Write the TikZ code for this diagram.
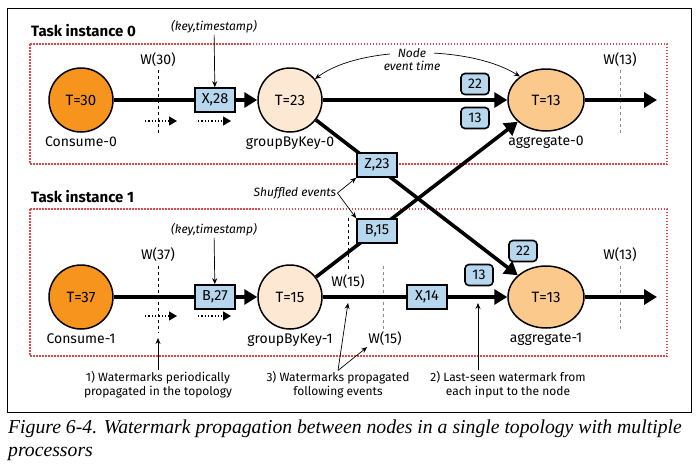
\documentclass[tikz,border=0pt]{standalone}
\usepackage{fontspec}
\setmainfont{Fira Sans}
\newfontfamily\capfont{Liberation Serif}
\usetikzlibrary{arrows.meta,shapes.geometric,positioning}
\definecolor{srcorange}{HTML}{F7941E}
\definecolor{grppeach}{HTML}{FDE8D3}
\definecolor{aggpeach}{HTML}{FBC98B}
\definecolor{evblue}{HTML}{B7D7EE}
\definecolor{taskred}{HTML}{E0474C}
\definecolor{wmgray}{HTML}{8C8C8C}

\begin{document}
\begin{tikzpicture}[x=1pt,y=-1pt,
  opnode/.style={draw,line width=1.5pt,inner sep=0pt,font=\fontsize{15}{17}\selectfont},
  srcnode/.style={opnode,circle,fill=srcorange,minimum size=64pt},
  grpnode/.style={opnode,circle,fill=grppeach,minimum size=64pt},
  aggnode/.style={opnode,ellipse,fill=aggpeach,minimum width=76pt,minimum height=62pt},
  oplbl/.style={font=\fontsize{14}{16}\selectfont,inner sep=1pt},
  evbox/.style={draw,line width=1.6pt,fill=evblue,minimum width=40pt,minimum height=24pt,inner sep=0pt,font=\fontsize{14.5}{16}\selectfont},
  wmbadge/.style={draw,line width=1.6pt,fill=evblue,rounded corners=4pt,minimum width=28pt,minimum height=21pt,inner sep=0pt,font=\fontsize{14}{16}\selectfont},
  wmlbl/.style={font=\fontsize{14}{16}\selectfont,inner sep=1pt},
  wmline/.style={dashed,line width=0.9pt,dash pattern=on 3pt off 3pt},
  flow/.style={line width=3.6pt,-{Triangle[length=13pt,width=15pt]}},
  tick/.style={dotted,line width=1.3pt,-{Triangle[length=8pt,width=9pt]}},
  note/.style={line width=0.7pt,-{Stealth[length=6pt,width=5pt]}},
  ital/.style={font=\itshape\fontsize{12}{14}\selectfont,inner sep=1pt},
  annot/.style={font=\fontsize{12}{14}\selectfont,align=center,inner sep=1pt},
  taskbox/.style={draw=taskred,line width=1.2pt,dash pattern=on 1.5pt off 1.5pt},
  tasktitle/.style={font=\bfseries\fontsize{15}{17}\selectfont,anchor=west,inner sep=0pt}]
\useasboundingbox (0,0) rectangle (698,472);
\draw[line width=1pt] (7,8) rectangle (691,412);

\draw[taskbox] (30,44) rectangle (667,164);
\draw[taskbox] (30,209) rectangle (667,356);
\node[tasktitle] (title0) at (31,31) {Task instance 0};
\node[tasktitle] (title1) at (31,197) {Task instance 1};

\node[srcnode] (con0) at (81,100) {T=30};
\node[grpnode] (gbk0) at (290,100) {T=23};
\node[aggnode] (agg0) at (546,100) {T=13};
\node[srcnode] (con1) at (81,297) {T=37};
\node[grpnode] (gbk1) at (290,297) {T=15};
\node[aggnode] (agg1) at (546,297) {T=13};
\node[oplbl,below=3pt of con0] {Consume-0};
\node[oplbl,below=3pt of gbk0] {groupByKey-0};
\node[oplbl,below=3pt of agg0] {aggregate-0};
\node[oplbl,below=3pt of con1] {Consume-1};
\node[oplbl,below=3pt of gbk1] {groupByKey-1};
\node[oplbl,below=3pt of agg1] {aggregate-1};
\coordinate (out0) at (657,100);
\coordinate (out1) at (657,297);

\node[wmlbl] (w30) at (158,60) {W(30)};
\node[wmlbl] (w37) at (158,255) {W(37)};
\node[wmlbl] (w13a) at (620,60) {W(13)};
\node[wmlbl] (w13b) at (620,255) {W(13)};
\node[wmlbl] (w15a) at (348,282) {W(15)};
\node[wmlbl] (w15b) at (385,339) {W(15)};
\draw[wmline] (158,70) -- (158,135);
\draw[wmline] (158,266) -- (158,333);
\draw[wmline,wmgray] (620,70) -- (620,135);
\draw[wmline,wmgray] (620,266) -- (620,330);
\draw[wmline] (348,218) -- (348,272);
\draw[wmline,wmgray] (383,266) -- (383,330);

\draw[flow] (con0) -- (gbk0);
\draw[flow] (gbk0) -- (agg0);
\draw[flow] (agg0) -- (out0);
\draw[flow] (con1) -- (gbk1);
\draw[flow] (gbk1) -- (agg1);
\draw[flow] (agg1) -- (out1);
\draw[flow] (gbk0) -- (agg1);
\draw[flow] (gbk1) -- (agg0);

\draw[tick] (145,121) -- (177,121);
\draw[tick] (198,121) -- (231,121);
\draw[tick] (145,316) -- (177,316);
\draw[tick] (198,316) -- (231,316);

\node[evbox] (x28) at (215,100) {X,28};
\node[evbox] (b27) at (215,297) {B,27};
\node[evbox] (z23) at (377,165) {Z,23};
\node[evbox] (b15) at (377,231) {B,15};
\node[evbox] (x14) at (427,297) {X,14};
\node[wmbadge] (b22a) at (475,84) {22};
\node[wmbadge] (b13a) at (475,118) {13};
\node[wmbadge] (b22b) at (523,251) {22};
\node[wmbadge] (b13b) at (479,275) {13};

\node[ital] (key0) at (214,27) {(key,timestamp)};
\node[ital] (key1) at (214,230) {(key,timestamp)};
\draw[note] (key0) -- (x28);
\draw[note] (key1) -- (b27);

\node[ital] (shuf) at (295,193) {Shuffled events};
\draw[note] (shuf.east) -- (z23.south west);
\draw[note] (shuf.east) -- (b15.north west);

\draw[note,{Stealth[length=6pt,width=5pt]}-{Stealth[length=6pt,width=5pt]}] (gbk0.40) .. controls (360,45) and (470,45) .. (agg0.138);
\node[ital,fill=white,inner xsep=8pt] (evtime) at (412,53) {Node};
\node[ital,below=1pt of evtime] {event time};

\node[annot] (ann1) at (158,385) {1) Watermarks periodically\\propagated in the topology};
\node[annot] (ann3) at (338,385) {3) Watermarks propagated\\following events};
\node[annot] (ann2) at (508,385) {2) Last-seen watermark from\\each input to the node};
\coordinate (wm37end) at (158,338);
\coordinate (wm15end) at (348,303);
\coordinate (lastseen) at (478,303);
\draw[note] (ann1.north) -- (wm37end);
\draw[note] (ann3.north) -- (wm15end);
\draw[note] (ann3.north) -- (w15b.south west);
\draw[note] (ann2.north -| lastseen) -- (lastseen);

\node[anchor=north west,align=left,inner sep=0pt,font=\capfont\itshape\fontsize{19.7}{23}\selectfont] (caption) at (8,420)
  {Figure 6-4. Watermark propagation between nodes in a single topology with multiple\\processors};
\end{tikzpicture}
\end{document}
